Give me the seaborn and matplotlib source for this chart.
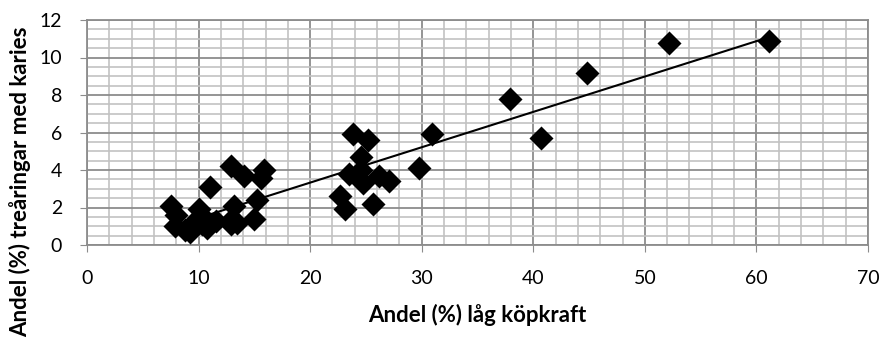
import numpy as np
import seaborn as sns
import matplotlib.pyplot as plt
from matplotlib.ticker import MultipleLocator

sns.set_style("white")
plt.rcParams["font.family"] = ["Lato", "DejaVu Sans"]
plt.rcParams["text.color"] = "black"
plt.rcParams["axes.labelcolor"] = "black"
plt.rcParams["xtick.color"] = "black"
plt.rcParams["ytick.color"] = "black"

# Andel (%) låg köpkraft
low_income = [61.1, 52.2, 44.8, 37.9, 40.7, 30.9, 29.8, 23.8, 25.2, 24.6,
              23.5, 24.6, 24.7, 26.2, 27.1, 22.7, 23.1, 25.6, 15.9, 15.6,
              14.1, 12.9, 11.0, 15.2, 13.2, 15.0, 12.9, 13.4, 7.5, 8.0,
              7.9, 9.2, 9.5, 10.0, 10.4, 10.8, 11.6, 12.8, 8.8, 10.3]
# Andel (%) treåringar med karies
caries = [10.9, 10.8, 9.2, 7.8, 5.7, 5.9, 4.1, 5.9, 5.6, 4.7,
          3.8, 4.0, 3.3, 3.7, 3.4, 2.6, 1.9, 2.2, 4.0, 3.6,
          3.7, 4.2, 3.1, 2.4, 2.1, 1.4, 1.1, 1.2, 2.1, 1.6,
          1.0, 0.7, 1.2, 1.9, 1.5, 0.9, 1.3, 1.3, 0.8, 1.1]

fig = plt.figure(figsize=(8.83, 3.45), dpi=100)
ax = fig.add_axes([87 / 883, 1 - 245 / 345, (868 - 87) / 883, (245 - 20) / 345])

sns.regplot(x=low_income, y=caries, ax=ax, ci=None, truncate=True,
            marker="D", color="black",
            scatter_kws={"s": 150, "linewidths": 0, "alpha": 1, "zorder": 3},
            line_kws={"linewidth": 1.5, "zorder": 4})

ax.set_xlim(0, 70)
ax.set_ylim(0, 12)
ax.xaxis.set_major_locator(MultipleLocator(10))
ax.xaxis.set_minor_locator(MultipleLocator(2))
ax.yaxis.set_major_locator(MultipleLocator(2))
ax.yaxis.set_minor_locator(MultipleLocator(0.5))
ax.grid(which="major", color="#8c8c8c", linewidth=1.3)
ax.grid(which="minor", color="#c2c2c2", linewidth=1.2)
ax.set_axisbelow(True)
for s in ax.spines.values():
    s.set_color("#8c8c8c")
    s.set_linewidth(1.3)

ax.tick_params(axis="both", which="major", labelsize=14, length=5,
               color="#8c8c8c", labelcolor="black", direction="out", pad=13)
ax.tick_params(axis="both", which="minor", length=0)
ax.tick_params(axis="x", bottom=True)
ax.tick_params(axis="y", left=True)

ax.set_xlabel("Andel (%) låg köpkraft", fontsize=16, fontweight="bold", va="center")
ax.xaxis.set_label_coords(0.5, (245 - 315) / 225)
ax.set_ylabel("Andel (%) treåringar med karies", fontsize=16, fontweight="bold", va="center")
ax.yaxis.set_label_coords((20 - 87) / 781, (245 - 182) / 225)

fig.savefig("out.png", dpi=100)
